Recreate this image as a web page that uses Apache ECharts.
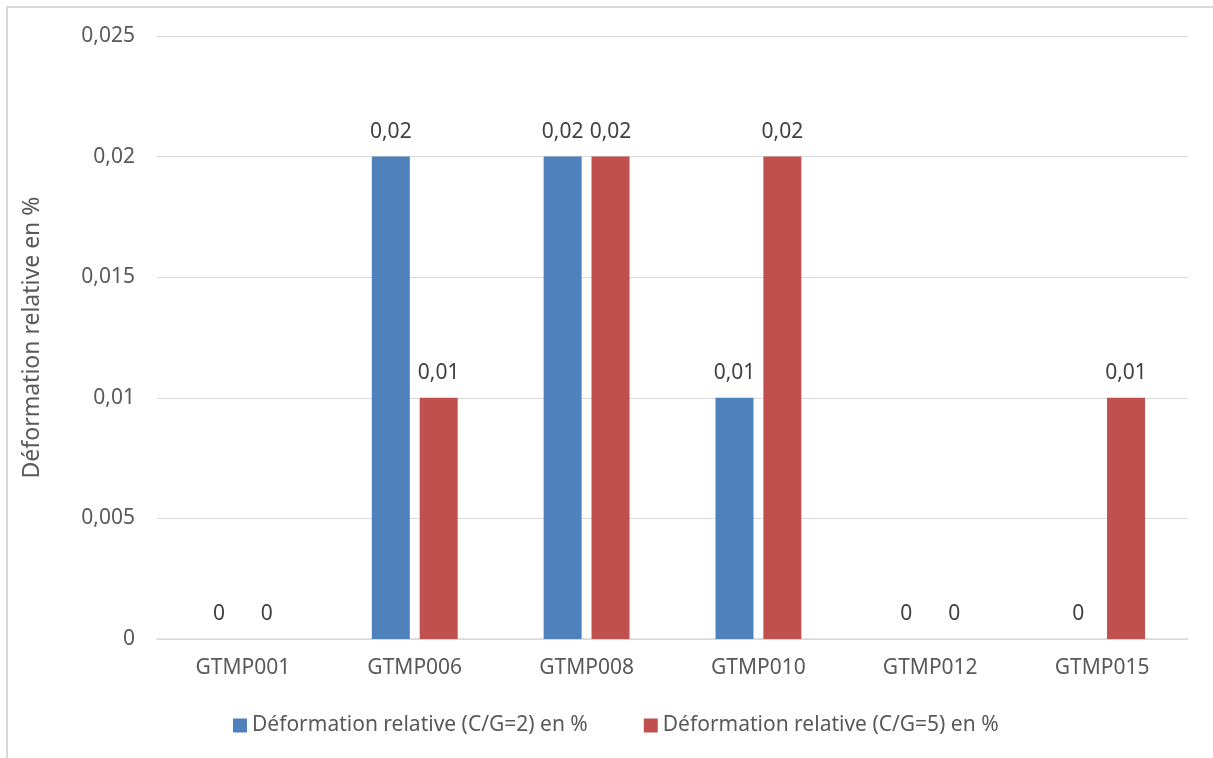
<!DOCTYPE html>
<html><head><meta charset="utf-8">
<script src="https://cdn.jsdelivr.net/npm/echarts@6/dist/echarts.min.js"></script>
<style>
html,body{margin:0;padding:0;background:#fff;}
#frame{position:absolute;left:6px;top:6px;width:1240px;height:780px;border:2px solid #d9d9d9;box-sizing:border-box;}
#c{position:absolute;left:0;top:0;width:1213px;height:758px;}
</style></head>
<body>
<div id="frame"></div>
<div id="c"></div>
<script>
var categories = ['GTMP001','GTMP006','GTMP008','GTMP010','GTMP012','GTMP015'];
var seriesNames = ['Déformation relative (C/G=2) en %','Déformation relative (C/G=5) en %'];
var valuesCG2 = [0, 0.02, 0.02, 0.01, 0, 0];
var valuesCG5 = [0, 0.01, 0.02, 0.02, 0, 0.01];
var yTicks = {min: 0, max: 0.025, interval: 0.005};

var font = 'Noto Sans';
var txt = '#595959';
function fmt(v){ return String(+v.toFixed(4)).replace('.', ','); }
var chart = echarts.init(document.getElementById('c'));
var labelCfg = {show:true, position:'top', distance:14, color:'#404040', fontFamily:font, fontSize:21,
  formatter:function(p){return fmt(p.value);}};
chart.setOption({
  animation:false,
  grid:{left:157, right:25, top:36, bottom:119, containLabel:false},
  legend:{left:228, top:710, itemWidth:14, itemHeight:14, itemGap:56, icon:'rect',
    textStyle:{color:txt, fontFamily:font, fontSize:21},
    data:seriesNames},
  xAxis:{type:'category', data:categories,
    axisLine:{lineStyle:{color:'#d9d9d9', width:1.5}}, axisTick:{show:false},
    axisLabel:{color:txt, fontFamily:font, fontSize:21, margin:19}},
  yAxis:{type:'value', min:yTicks.min, max:yTicks.max, interval:yTicks.interval,
    name:'Déformation relative en %', nameLocation:'middle', nameGap:113, nameRotate:90,
    nameTextStyle:{color:txt, fontFamily:font, fontSize:23},
    axisLine:{show:false}, axisTick:{show:false},
    splitLine:{lineStyle:{color:'#d9d9d9', width:1.2}},
    axisLabel:{color:txt, fontFamily:font, fontSize:21, margin:22, formatter:function(v){return fmt(v);}}},
  series:[
    {name:seriesNames[0], type:'bar', data:valuesCG2, barWidth:38, barGap:'26%', itemStyle:{color:'#4F81BD'}, label:labelCfg},
    {name:seriesNames[1], type:'bar', data:valuesCG5, barWidth:38, barGap:'26%', itemStyle:{color:'#C0504D'}, label:labelCfg}
  ]
});
</script>
</body></html>
